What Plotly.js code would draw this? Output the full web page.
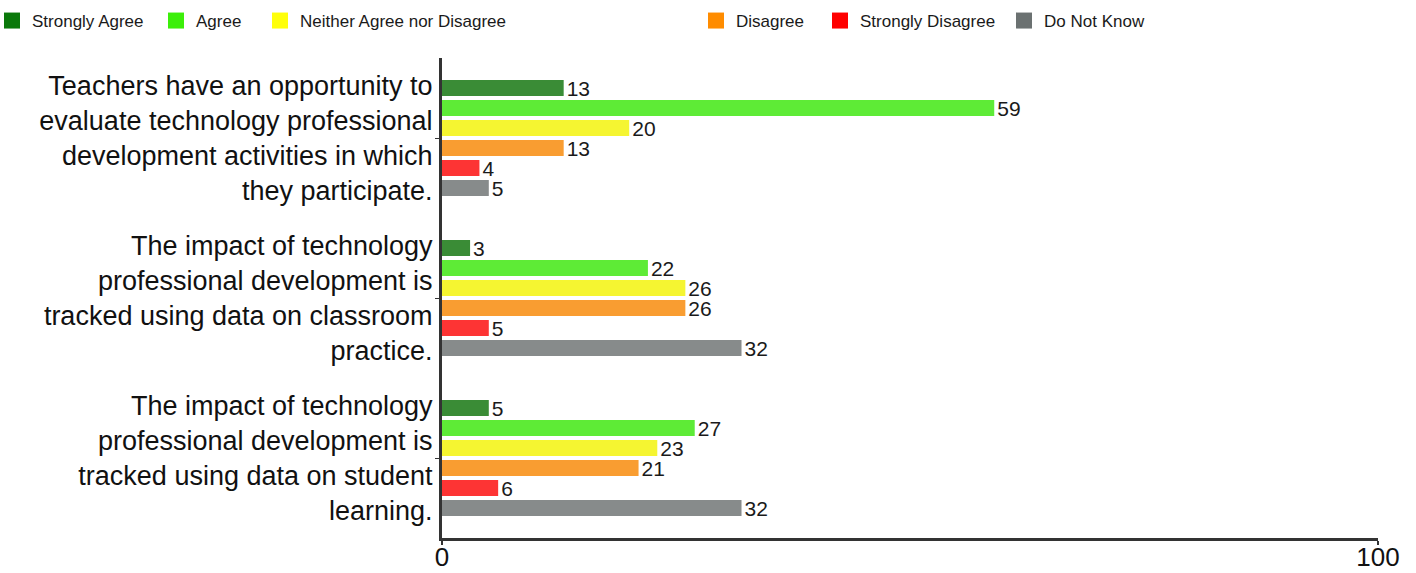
<!DOCTYPE html>
<html>
<head>
<meta charset="utf-8">
<script src="https://cdn.plot.ly/plotly-3.0.1.min.js"></script>
<style>
  html, body { margin: 0; padding: 0; background: #ffffff; }
  #chart { width: 1416px; height: 573px; }
</style>
</head>
<body>
<div id="chart"></div>
<script>
// Survey statements (one group of bars each, top to bottom)
const statements = [
  "Teachers have an opportunity to<br>evaluate technology professional<br>development activities in which<br>they participate.",
  "The impact of technology<br>professional development is<br>tracked using data on classroom<br>practice.",
  "The impact of technology<br>professional development is<br>tracked using data on student<br>learning."
];

// Response options
const responses = ["Strongly Agree", "Agree", "Neither Agree nor Disagree", "Disagree", "Strongly Disagree", "Do Not Know"];

// Percent of respondents per response, in statement order
const stronglyAgree    = [13, 3, 5];
const agree            = [59, 22, 27];
const neither          = [20, 26, 23];
const disagree         = [13, 26, 21];
const stronglyDisagree = [4, 5, 6];
const doNotKnow        = [5, 32, 32];

// Axis ticks
const xTicks = [0, 100];

const seriesValues = [stronglyAgree, agree, neither, disagree, stronglyDisagree, doNotKnow];
const barColors    = ["#3a8c36", "#5eeb36", "#f5f531", "#f99d31", "#fd3434", "#878b8b"];
const keyColors    = ["#0a780a", "#3cef0a", "#ffff0a", "#ff8c00", "#ff0000", "#6b7171"];
// left edge of each key label, in pixels from the page's left side
const keyTextLeft  = [32, 196, 300, 736, 860, 1044];

const W = 1416, H = 573;
const M = { l: 442, r: 38, t: 58, b: 35, autoexpand: false };
const plotW = W - M.l - M.r;
const FONT = "Liberation Sans, Arial, sans-serif";

const traces = [];
responses.forEach((name, i) => {
  traces.push({
    type: "bar",
    orientation: "h",
    name: name,
    y: statements,
    x: seriesValues[i],
    text: seriesValues[i].map(String),
    textposition: "outside",
    constraintext: "none",
    cliponaxis: false,
    textfont: { family: FONT, size: 21, color: "#1a1a1a" },
    marker: { color: barColors[i], line: { width: 0 } },
    showlegend: false,
    hoverinfo: "x+name"
  });
});

// Key entries, each in its own legend so they can sit at fixed spots
const legends = {};
responses.forEach((name, i) => {
  const id = i === 0 ? "legend" : "legend" + (i + 1);
  traces.push({
    type: "scatter",
    mode: "markers",
    name: name,
    x: [null],
    y: [null],
    legend: id,
    marker: { symbol: "square", size: 16, color: keyColors[i] },
    hoverinfo: "skip"
  });
  legends[id] = {
    orientation: "h",
    x: (keyTextLeft[i] - 40 - M.l) / plotW,
    xanchor: "left",
    yref: "container",
    y: 1 - 21 / H,
    yanchor: "middle",
    bgcolor: "rgba(0,0,0,0)",
    borderwidth: 0,
    font: { family: FONT, size: 17, color: "#1a1a1a" }
  };
});

const layout = Object.assign({
  width: W,
  height: H,
  margin: M,
  paper_bgcolor: "#ffffff",
  plot_bgcolor: "#ffffff",
  font: { family: FONT, color: "#111111" },
  barmode: "group",
  bargap: 0.25,
  bargroupgap: 0.2,
  xaxis: {
    range: [0, 100],
    tickvals: xTicks,
    ticktext: xTicks.map(String),
    ticks: "outside",
    ticklen: 4,
    tickwidth: 2,
    tickcolor: "#333333",
    ticklabelstandoff: -10,
    showline: true,
    linewidth: 3,
    linecolor: "#333333",
    showgrid: false,
    zeroline: false,
    tickfont: { family: FONT, size: 26, color: "#111111" },
    fixedrange: true
  },
  yaxis: {
    type: "category",
    autorange: "reversed",
    ticks: "outside",
    ticklen: 4,
    tickwidth: 1,
    tickcolor: "#333333",
    ticklabelstandoff: -3,
    showline: true,
    linewidth: 3,
    linecolor: "#333333",
    showgrid: false,
    zeroline: false,
    tickfont: { family: FONT, size: 27, color: "#111111" },
    fixedrange: true
  }
}, legends);

Plotly.newPlot("chart", traces, layout, { displayModeBar: false, staticPlot: true });
</script>
</body>
</html>
